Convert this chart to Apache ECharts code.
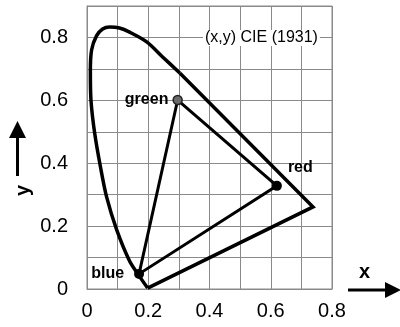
<!DOCTYPE html>
<html>
<head>
<meta charset="utf-8">
<script src="https://cdn.jsdelivr.net/npm/echarts@6/dist/echarts.min.js"></script>
<style>
  html, body { margin: 0; padding: 0; background: #fff; }
  #main { width: 400px; height: 327px; }
</style>
</head>
<body>
<div id="main"></div>
<script>
// tick labels (every other grid line gets one)
var xTicks = ['0', '0.2', '0.4', '0.6', '0.8']
var yTicks = ['0', '0.2', '0.4', '0.6', '0.8']

// spectral locus, curved part: from the violet end up and over the top
var locusCurve = [
  [0.198, 0.003], [0.168, 0.045], [0.139, 0.089], [0.097, 0.188], [0.064, 0.293],
  [0.044, 0.388], [0.025, 0.496], [0.013, 0.600], [0.011, 0.693], [0.015, 0.760],
  [0.031, 0.805], [0.051, 0.827], [0.074, 0.833], [0.106, 0.830], [0.139, 0.817],
  [0.195, 0.786], [0.247, 0.738], [0.303, 0.687]
]
// straight part down to the red end, then the purple line back
var locusEdge = [[0.303, 0.687], [0.738, 0.261], [0.198, 0.003]]

// primaries
var primNames = ['green', 'red', 'blue']
var primX = [0.296, 0.620, 0.170]
var primY = [0.601, 0.328, 0.048]

var chart = echarts.init(document.getElementById('main'), null, { renderer: 'canvas' })

function tickFmt(list) {
  return function (v) {
    var k = Math.round(v * 10)
    if (k % 2 !== 0) return ''
    return list[k / 2] || ''
  }
}

var primPts = primNames.map(function (n, i) { return [primX[i], primY[i], n] })
primPts.push([primX[0], primY[0], 'green'])

var font = 'Liberation Sans, Arial, Helvetica, sans-serif'

var option = {
  animation: false,
  backgroundColor: '#fff',
  textStyle: { fontFamily: font },
  grid: {
    left: 87, right: 68, top: 6, bottom: 38,
    show: true, borderColor: '#8a8a8a', borderWidth: 1
  },
  xAxis: {
    type: 'value', min: 0, max: 0.8, interval: 0.1,
    axisLine: { lineStyle: { color: '#8a8a8a' } },
    axisTick: { show: false },
    splitLine: { lineStyle: { color: '#8a8a8a', width: 1 } },
    axisLabel: { color: '#000', fontSize: 20, margin: 12, formatter: tickFmt(xTicks) }
  },
  yAxis: {
    type: 'value', min: 0, max: 0.9, interval: 0.1,
    axisLine: { lineStyle: { color: '#8a8a8a' } },
    axisTick: { show: false },
    splitLine: { lineStyle: { color: '#8a8a8a', width: 1 } },
    axisLabel: { color: '#000', fontSize: 20, margin: 19, formatter: tickFmt(yTicks) }
  },
  series: [
    {
      name: 'locus', type: 'line', data: locusCurve, smooth: 0.3,
      symbol: 'none', lineStyle: { color: '#000', width: 3.5 }
    },
    {
      name: 'locusEdge', type: 'line', data: locusEdge,
      symbol: 'none', lineStyle: { color: '#000', width: 3.5, join: 'miter' }
    },
    {
      name: 'gamut', type: 'line', data: primPts,
      symbol: 'none', lineStyle: { color: '#000', width: 3, join: 'miter' }, z: 3
    },
    {
      name: 'primaries', type: 'scatter', z: 4,
      itemStyle: { opacity: 1 },
      data: [
        {
          value: primPts[0], symbolSize: 9,
          itemStyle: { color: '#6a6a6a', borderColor: '#222', borderWidth: 1.5, opacity: 1 },
          label: { position: 'left', distance: 4 }
        },
        {
          value: primPts[1], symbolSize: 10, itemStyle: { color: '#000', opacity: 1 },
          label: { position: 'right', offset: [1, -18] }
        },
        {
          value: primPts[2], symbolSize: 10, itemStyle: { color: '#000', opacity: 1 },
          label: { position: 'left', distance: 10 }
        }
      ],
      label: {
        show: true, formatter: function (p) { return p.value[2] },
        color: '#000', fontSize: 16, fontWeight: 'bold', fontFamily: font
      }
    }
  ],
  graphic: [
    {
      type: 'text', left: 203, top: 30, z: 10,
      style: {
        text: '(x,y) CIE (1931)', font: '16px ' + font, fill: '#000',
        backgroundColor: '#fff', padding: [0, 2]
      }
    },
    // y axis name + arrow
    {
      type: 'text', x: 13, y: 196, rotation: Math.PI / 2,
      style: { text: 'y', font: 'bold 20px ' + font, fill: '#000' }
    },
    { type: 'line', shape: { x1: 17.5, y1: 176, x2: 17.5, y2: 134 }, style: { stroke: '#000', lineWidth: 3 } },
    { type: 'polygon', shape: { points: [[17.5, 121], [9, 138], [26, 138]] }, style: { fill: '#000' } },
    // x axis name + arrow
    {
      type: 'text', x: 359, y: 262,
      style: { text: 'x', font: 'bold 20px ' + font, fill: '#000' }
    },
    { type: 'line', shape: { x1: 348, y1: 290, x2: 388, y2: 290 }, style: { stroke: '#000', lineWidth: 3 } },
    { type: 'polygon', shape: { points: [[401, 290], [385, 282], [385, 298]] }, style: { fill: '#000' } }
  ]
}

chart.setOption(option)
</script>
</body>
</html>
